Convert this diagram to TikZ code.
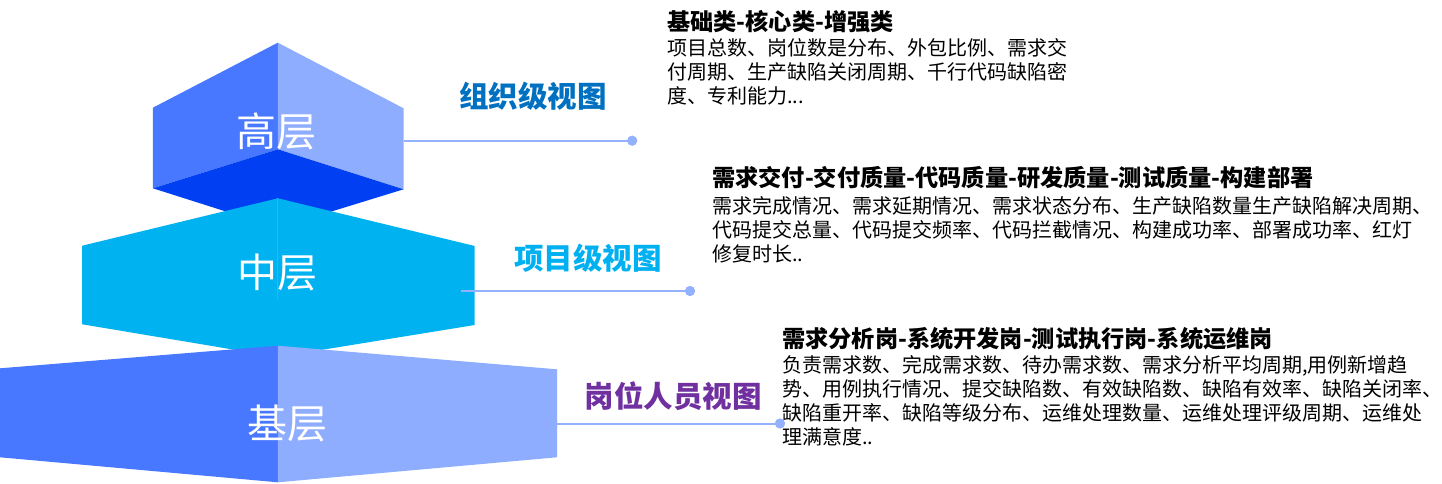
\documentclass[tikz,border=0pt]{standalone}
\usepackage{fontspec}
\setmainfont{Noto Sans CJK SC}
\definecolor{faceL}{HTML}{4778FF}
\definecolor{faceR}{HTML}{8EADFF}
\definecolor{faceD}{HTML}{0040F2}
\definecolor{midC}{HTML}{00B2EF}
\definecolor{midLine}{HTML}{22BAF2}
\definecolor{lineC}{HTML}{94B1FF}
\definecolor{lblA}{HTML}{0070C0}
\definecolor{lblB}{HTML}{00B0F0}
\definecolor{lblC}{HTML}{7030A0}
\begin{document}
\begin{tikzpicture}[x=1pt,y=-1pt,
  layer/.style={text=white, font=\fontsize{40}{40}\selectfont, anchor=base, inner sep=0pt},
  view/.style={font=\bfseries\fontsize{29.5}{30}\selectfont, anchor=base, inner sep=0pt},
  ttl/.style={font=\bfseries\fontsize{23.2}{24}\selectfont, anchor=base west, inner sep=0pt},
  body/.style={font=\fontsize{20}{24}\selectfont, anchor=base west, inner sep=0pt},
  conn/.style={draw=lineC, line width=2pt},
  dot/.style={circle, fill=lineC, minimum size=10pt, inner sep=0pt}]
\useasboundingbox (0,0) rectangle (1442,484);

% ---- top block (高层)
\fill[faceL] (277.8,42.7) -- (152.9,107.7) -- (152.9,188.3) -- (277.8,149.3) -- cycle;
\fill[faceR] (277.8,42.7) -- (403.6,108.3) -- (403.6,189.3) -- (277.8,149.3) -- cycle;
\fill[faceD] (277.8,149.3) -- (152.9,188.3) -- (277.8,228) -- (403.6,189.3) -- cycle;

% ---- middle block (中层)
\fill[midC] (277.8,198.3) -- (82.2,245.7) -- (82.2,324.3) -- (277.8,357) -- (474.7,325) -- (474.7,246) -- cycle;
\draw[midLine, line width=0.8pt] (277.8,198.3) -- (277.8,300);

% ---- bottom block (基层)
\fill[faceL] (277.8,345.7) -- (0,368.3) -- (0,457.3) -- (277.8,482.3) -- cycle;
\fill[faceR] (277.8,345.7) -- (557,369.3) -- (557,457.3) -- (277.8,482.3) -- cycle;

% ---- layer labels
\node[layer] (L1) at (276.6,146.9) {高层};
\node[layer] (L2) at (277.7,287.9) {中层};
\node[layer] (L3) at (287,438.2) {基层};

% ---- view labels
\node[view, text=lblA] (V1) at (533,107.2) {组织级视图};
\node[view, text=lblB] (V2) at (588,269.2) {项目级视图};
\node[view, text=lblC] (V3) at (673,407.7) {岗位人员视图};

% ---- connectors
\coordinate (s1) at (403.6,140.7);
\coordinate (s2) at (461.4,291);
\coordinate (s3) at (556.7,423.5);
\node[dot] (d1) at (632.2,140.7) {};
\node[dot] (d2) at (690,291) {};
\node[dot] (d3) at (780,423.5) {};
\draw[conn] (s1) -- (d1.center);
\draw[conn] (s2) -- (d2.center);
\draw[conn] (s3) -- (d3.center);
\node[dot] at (d1.center) {};
\node[dot] at (d2.center) {};
\node[dot] at (d3.center) {};

% ---- block 1 text
\node[ttl] (T1) at (667,30.5) {基础类-核心类-增强类};
\node[body] (B1a) at (667,55.6) {项目总数、岗位数是分布、外包比例、需求交};
\node[body] (B1b) at (667,79.6) {付周期、生产缺陷关闭周期、千行代码缺陷密};
\node[body] (B1c) at (667,103.6) {度、专利能力...};

% ---- block 2 text
\node[ttl] (T2) at (712,186.5) {需求交付-交付质量-代码质量-研发质量-测试质量-构建部署};
\node[body] (B2a) at (712,213.6) {需求完成情况、需求延期情况、需求状态分布、生产缺陷数量生产缺陷解决周期、};
\node[body] (B2b) at (712,237.6) {代码提交总量、代码提交频率、代码拦截情况、构建成功率、部署成功率、红灯};
\node[body] (B2c) at (712,261.6) {修复时长..};

% ---- block 3 text
\node[ttl] (T3) at (782,347.5) {需求分析岗-系统开发岗-测试执行岗-系统运维岗};
\node[body] (B3a) at (782,372.6) {负责需求数、完成需求数、待办需求数、需求分析平均周期,用例新增趋};
\node[body] (B3b) at (782,396.6) {势、用例执行情况、提交缺陷数、有效缺陷数、缺陷有效率、缺陷关闭率、};
\node[body] (B3c) at (782,420.6) {缺陷重开率、缺陷等级分布、运维处理数量、运维处理评级周期、运维处};
\node[body] (B3d) at (782,444.6) {理满意度..};
\end{tikzpicture}
\end{document}
